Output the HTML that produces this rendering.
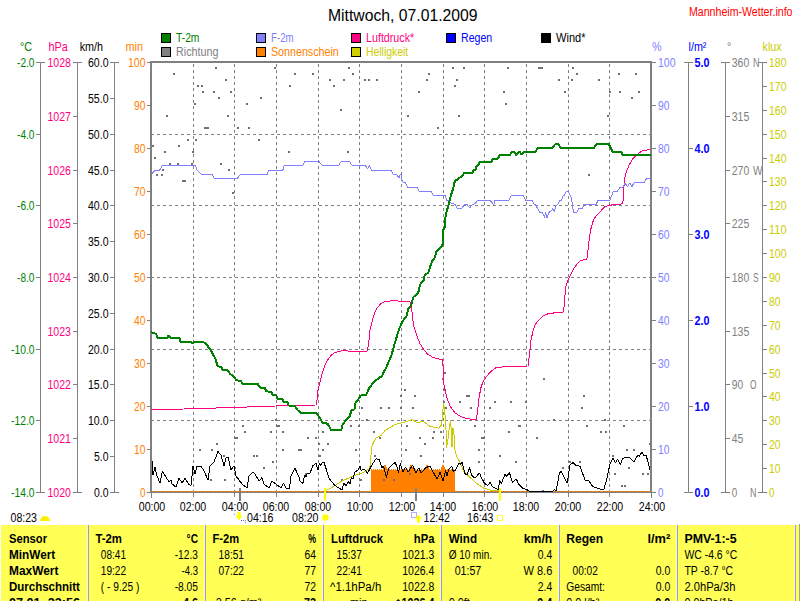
<!DOCTYPE html><html><head><meta charset="utf-8"><style>html,body{margin:0;padding:0;background:#fff;width:800px;height:601px;overflow:hidden}svg{display:block}text{font-family:"Liberation Sans",sans-serif}</style></head><body>
<svg width="800" height="601" viewBox="0 0 800 601">
<rect width="800" height="601" fill="#fff"/>
<text x="328" y="21" fill="#000" font-size="16" text-anchor="start" textLength="149.5" lengthAdjust="spacingAndGlyphs">Mittwoch, 07.01.2009</text>
<text x="689" y="16" fill="#FF0000" font-size="12" text-anchor="start" textLength="103.5" lengthAdjust="spacingAndGlyphs">Mannheim-Wetter.info</text>
<rect x="161.5" y="33.5" width="9" height="9" fill="#008000" stroke="#000" stroke-width="1"/>
<text x="176" y="42" fill="#008000" font-size="12" text-anchor="start" textLength="23.4" lengthAdjust="spacingAndGlyphs">T-2m</text>
<rect x="161.5" y="47.5" width="9" height="9" fill="#808080" stroke="#000" stroke-width="1"/>
<text x="176" y="56" fill="#808080" font-size="12" text-anchor="start" textLength="42.4" lengthAdjust="spacingAndGlyphs">Richtung</text>
<rect x="256.5" y="33.5" width="9" height="9" fill="#8080FF" stroke="#000" stroke-width="1"/>
<text x="271" y="42" fill="#8080FF" font-size="12" text-anchor="start" textLength="22.7" lengthAdjust="spacingAndGlyphs">F-2m</text>
<rect x="256.5" y="47.5" width="9" height="9" fill="#FF8000" stroke="#000" stroke-width="1"/>
<text x="271" y="56" fill="#FF8000" font-size="12" text-anchor="start" textLength="67.7" lengthAdjust="spacingAndGlyphs">Sonnenschein</text>
<rect x="351.5" y="33.5" width="9" height="9" fill="#FF0080" stroke="#000" stroke-width="1"/>
<text x="366" y="42" fill="#FF0080" font-size="12" text-anchor="start" textLength="48.2" lengthAdjust="spacingAndGlyphs">Luftdruck*</text>
<rect x="351.5" y="47.5" width="9" height="9" fill="#D0D000" stroke="#000" stroke-width="1"/>
<text x="366" y="56" fill="#CCCC00" font-size="12" text-anchor="start" textLength="42.2" lengthAdjust="spacingAndGlyphs">Helligkeit</text>
<rect x="446.5" y="33.5" width="9" height="9" fill="#0000FF" stroke="#000" stroke-width="1"/>
<text x="461" y="42" fill="#0000FF" font-size="12" text-anchor="start" textLength="31.25" lengthAdjust="spacingAndGlyphs">Regen</text>
<rect x="541.5" y="33.5" width="9" height="9" fill="#000000" stroke="#000" stroke-width="1"/>
<text x="556" y="42" fill="#000000" font-size="12" text-anchor="start" textLength="29.5" lengthAdjust="spacingAndGlyphs">Wind*</text>
<text x="20" y="51" fill="#008000" font-size="12" text-anchor="start" textLength="12.1" lengthAdjust="spacingAndGlyphs">°C</text>
<text x="48.5" y="51" fill="#FF0080" font-size="12" text-anchor="start" textLength="19.19" lengthAdjust="spacingAndGlyphs">hPa</text>
<text x="79.7" y="51" fill="#000" font-size="12" text-anchor="start" textLength="23.37" lengthAdjust="spacingAndGlyphs">km/h</text>
<text x="125.6" y="51" fill="#FF8000" font-size="12" text-anchor="start" textLength="17.38" lengthAdjust="spacingAndGlyphs">min</text>
<text x="652" y="51" fill="#8080FF" font-size="12" text-anchor="start" textLength="9.59" lengthAdjust="spacingAndGlyphs">%</text>
<text x="688.5" y="51" fill="#0000FF" font-size="12" text-anchor="start" textLength="17.96" lengthAdjust="spacingAndGlyphs">l/m²</text>
<text x="727" y="51" fill="#808080" font-size="12" text-anchor="start" textLength="4.32" lengthAdjust="spacingAndGlyphs">°</text>
<text x="762.5" y="51" fill="#CCCC00" font-size="12" text-anchor="start" textLength="19.17" lengthAdjust="spacingAndGlyphs">klux</text>
<rect x="40" y="62" width="1" height="431" fill="#808080"/>
<rect x="36" y="62" width="9" height="1" fill="#808080"/>
<text x="34.5" y="67" fill="#008000" font-size="12" text-anchor="end" textLength="17.5" lengthAdjust="spacingAndGlyphs">-2.0</text>
<rect x="36" y="134" width="5" height="1" fill="#808080"/>
<text x="34.5" y="139" fill="#008000" font-size="12" text-anchor="end" textLength="17.5" lengthAdjust="spacingAndGlyphs">-4.0</text>
<rect x="36" y="205" width="5" height="1" fill="#808080"/>
<text x="34.5" y="210" fill="#008000" font-size="12" text-anchor="end" textLength="17.5" lengthAdjust="spacingAndGlyphs">-6.0</text>
<rect x="36" y="277" width="5" height="1" fill="#808080"/>
<text x="34.5" y="282" fill="#008000" font-size="12" text-anchor="end" textLength="17.5" lengthAdjust="spacingAndGlyphs">-8.0</text>
<rect x="36" y="349" width="5" height="1" fill="#808080"/>
<text x="34.5" y="354" fill="#008000" font-size="12" text-anchor="end" textLength="23.5" lengthAdjust="spacingAndGlyphs">-10.0</text>
<rect x="36" y="420" width="5" height="1" fill="#808080"/>
<text x="34.5" y="425" fill="#008000" font-size="12" text-anchor="end" textLength="23.5" lengthAdjust="spacingAndGlyphs">-12.0</text>
<rect x="36" y="492" width="9" height="1" fill="#808080"/>
<text x="34.5" y="497" fill="#008000" font-size="12" text-anchor="end" textLength="23.5" lengthAdjust="spacingAndGlyphs">-14.0</text>
<rect x="77" y="62" width="1" height="431" fill="#808080"/>
<rect x="73" y="62" width="9" height="1" fill="#808080"/>
<text x="71" y="67" fill="#FF0080" font-size="12" text-anchor="end" textLength="23.5" lengthAdjust="spacingAndGlyphs">1028</text>
<rect x="73" y="116" width="5" height="1" fill="#808080"/>
<text x="71" y="121" fill="#FF0080" font-size="12" text-anchor="end" textLength="23.5" lengthAdjust="spacingAndGlyphs">1027</text>
<rect x="73" y="170" width="5" height="1" fill="#808080"/>
<text x="71" y="175" fill="#FF0080" font-size="12" text-anchor="end" textLength="23.5" lengthAdjust="spacingAndGlyphs">1026</text>
<rect x="73" y="223" width="5" height="1" fill="#808080"/>
<text x="71" y="228" fill="#FF0080" font-size="12" text-anchor="end" textLength="23.5" lengthAdjust="spacingAndGlyphs">1025</text>
<rect x="73" y="277" width="5" height="1" fill="#808080"/>
<text x="71" y="282" fill="#FF0080" font-size="12" text-anchor="end" textLength="23.5" lengthAdjust="spacingAndGlyphs">1024</text>
<rect x="73" y="331" width="5" height="1" fill="#808080"/>
<text x="71" y="336" fill="#FF0080" font-size="12" text-anchor="end" textLength="23.5" lengthAdjust="spacingAndGlyphs">1023</text>
<rect x="73" y="384" width="5" height="1" fill="#808080"/>
<text x="71" y="389" fill="#FF0080" font-size="12" text-anchor="end" textLength="23.5" lengthAdjust="spacingAndGlyphs">1022</text>
<rect x="73" y="438" width="5" height="1" fill="#808080"/>
<text x="71" y="443" fill="#FF0080" font-size="12" text-anchor="end" textLength="23.5" lengthAdjust="spacingAndGlyphs">1021</text>
<rect x="73" y="492" width="9" height="1" fill="#808080"/>
<text x="71" y="497" fill="#FF0080" font-size="12" text-anchor="end" textLength="23.5" lengthAdjust="spacingAndGlyphs">1020</text>
<rect x="114" y="62" width="1" height="431" fill="#808080"/>
<rect x="110" y="62" width="9" height="1" fill="#808080"/>
<text x="108.5" y="67" fill="#000" font-size="12" text-anchor="end" textLength="20.5" lengthAdjust="spacingAndGlyphs">60.0</text>
<rect x="110" y="98" width="5" height="1" fill="#808080"/>
<text x="108.5" y="103" fill="#000" font-size="12" text-anchor="end" textLength="20.5" lengthAdjust="spacingAndGlyphs">55.0</text>
<rect x="110" y="134" width="5" height="1" fill="#808080"/>
<text x="108.5" y="139" fill="#000" font-size="12" text-anchor="end" textLength="20.5" lengthAdjust="spacingAndGlyphs">50.0</text>
<rect x="110" y="170" width="5" height="1" fill="#808080"/>
<text x="108.5" y="175" fill="#000" font-size="12" text-anchor="end" textLength="20.5" lengthAdjust="spacingAndGlyphs">45.0</text>
<rect x="110" y="205" width="5" height="1" fill="#808080"/>
<text x="108.5" y="210" fill="#000" font-size="12" text-anchor="end" textLength="20.5" lengthAdjust="spacingAndGlyphs">40.0</text>
<rect x="110" y="241" width="5" height="1" fill="#808080"/>
<text x="108.5" y="246" fill="#000" font-size="12" text-anchor="end" textLength="20.5" lengthAdjust="spacingAndGlyphs">35.0</text>
<rect x="110" y="277" width="5" height="1" fill="#808080"/>
<text x="108.5" y="282" fill="#000" font-size="12" text-anchor="end" textLength="20.5" lengthAdjust="spacingAndGlyphs">30.0</text>
<rect x="110" y="313" width="5" height="1" fill="#808080"/>
<text x="108.5" y="318" fill="#000" font-size="12" text-anchor="end" textLength="20.5" lengthAdjust="spacingAndGlyphs">25.0</text>
<rect x="110" y="349" width="5" height="1" fill="#808080"/>
<text x="108.5" y="354" fill="#000" font-size="12" text-anchor="end" textLength="20.5" lengthAdjust="spacingAndGlyphs">20.0</text>
<rect x="110" y="384" width="5" height="1" fill="#808080"/>
<text x="108.5" y="389" fill="#000" font-size="12" text-anchor="end" textLength="20.5" lengthAdjust="spacingAndGlyphs">15.0</text>
<rect x="110" y="420" width="5" height="1" fill="#808080"/>
<text x="108.5" y="425" fill="#000" font-size="12" text-anchor="end" textLength="20.5" lengthAdjust="spacingAndGlyphs">10.0</text>
<rect x="110" y="456" width="5" height="1" fill="#808080"/>
<text x="108.5" y="461" fill="#000" font-size="12" text-anchor="end" textLength="14.5" lengthAdjust="spacingAndGlyphs">5.0</text>
<rect x="110" y="492" width="9" height="1" fill="#808080"/>
<text x="108.5" y="497" fill="#000" font-size="12" text-anchor="end" textLength="14.5" lengthAdjust="spacingAndGlyphs">0.0</text>
<rect x="147" y="62" width="4" height="1" fill="#808080"/>
<text x="145.5" y="67" fill="#FF8000" font-size="12" text-anchor="end" textLength="17.5" lengthAdjust="spacingAndGlyphs">100</text>
<rect x="147" y="105" width="4" height="1" fill="#808080"/>
<text x="145.5" y="110" fill="#FF8000" font-size="12" text-anchor="end" textLength="11.5" lengthAdjust="spacingAndGlyphs">90</text>
<rect x="147" y="148" width="4" height="1" fill="#808080"/>
<text x="145.5" y="153" fill="#FF8000" font-size="12" text-anchor="end" textLength="11.5" lengthAdjust="spacingAndGlyphs">80</text>
<rect x="147" y="191" width="4" height="1" fill="#808080"/>
<text x="145.5" y="196" fill="#FF8000" font-size="12" text-anchor="end" textLength="11.5" lengthAdjust="spacingAndGlyphs">70</text>
<rect x="147" y="234" width="4" height="1" fill="#808080"/>
<text x="145.5" y="239" fill="#FF8000" font-size="12" text-anchor="end" textLength="11.5" lengthAdjust="spacingAndGlyphs">60</text>
<rect x="147" y="277" width="4" height="1" fill="#808080"/>
<text x="145.5" y="282" fill="#FF8000" font-size="12" text-anchor="end" textLength="11.5" lengthAdjust="spacingAndGlyphs">50</text>
<rect x="147" y="320" width="4" height="1" fill="#808080"/>
<text x="145.5" y="325" fill="#FF8000" font-size="12" text-anchor="end" textLength="11.5" lengthAdjust="spacingAndGlyphs">40</text>
<rect x="147" y="363" width="4" height="1" fill="#808080"/>
<text x="145.5" y="368" fill="#FF8000" font-size="12" text-anchor="end" textLength="11.5" lengthAdjust="spacingAndGlyphs">30</text>
<rect x="147" y="406" width="4" height="1" fill="#808080"/>
<text x="145.5" y="411" fill="#FF8000" font-size="12" text-anchor="end" textLength="11.5" lengthAdjust="spacingAndGlyphs">20</text>
<rect x="147" y="449" width="4" height="1" fill="#808080"/>
<text x="145.5" y="454" fill="#FF8000" font-size="12" text-anchor="end" textLength="11.5" lengthAdjust="spacingAndGlyphs">10</text>
<rect x="147" y="492" width="4" height="1" fill="#808080"/>
<text x="145.5" y="497" fill="#FF8000" font-size="12" text-anchor="end" textLength="5.5" lengthAdjust="spacingAndGlyphs">0</text>
<rect x="651" y="62" width="5" height="1" fill="#808080"/>
<text x="658" y="67" fill="#8080FF" font-size="12" text-anchor="start" textLength="17.5" lengthAdjust="spacingAndGlyphs">100</text>
<rect x="651" y="105" width="5" height="1" fill="#808080"/>
<text x="658" y="110" fill="#8080FF" font-size="12" text-anchor="start" textLength="11.5" lengthAdjust="spacingAndGlyphs">90</text>
<rect x="651" y="148" width="5" height="1" fill="#808080"/>
<text x="658" y="153" fill="#8080FF" font-size="12" text-anchor="start" textLength="11.5" lengthAdjust="spacingAndGlyphs">80</text>
<rect x="651" y="191" width="5" height="1" fill="#808080"/>
<text x="658" y="196" fill="#8080FF" font-size="12" text-anchor="start" textLength="11.5" lengthAdjust="spacingAndGlyphs">70</text>
<rect x="651" y="234" width="5" height="1" fill="#808080"/>
<text x="658" y="239" fill="#8080FF" font-size="12" text-anchor="start" textLength="11.5" lengthAdjust="spacingAndGlyphs">60</text>
<rect x="651" y="277" width="5" height="1" fill="#808080"/>
<text x="658" y="282" fill="#8080FF" font-size="12" text-anchor="start" textLength="11.5" lengthAdjust="spacingAndGlyphs">50</text>
<rect x="651" y="320" width="5" height="1" fill="#808080"/>
<text x="658" y="325" fill="#8080FF" font-size="12" text-anchor="start" textLength="11.5" lengthAdjust="spacingAndGlyphs">40</text>
<rect x="651" y="363" width="5" height="1" fill="#808080"/>
<text x="658" y="368" fill="#8080FF" font-size="12" text-anchor="start" textLength="11.5" lengthAdjust="spacingAndGlyphs">30</text>
<rect x="651" y="406" width="5" height="1" fill="#808080"/>
<text x="658" y="411" fill="#8080FF" font-size="12" text-anchor="start" textLength="11.5" lengthAdjust="spacingAndGlyphs">20</text>
<rect x="651" y="449" width="5" height="1" fill="#808080"/>
<text x="658" y="454" fill="#8080FF" font-size="12" text-anchor="start" textLength="11.5" lengthAdjust="spacingAndGlyphs">10</text>
<rect x="651" y="492" width="5" height="1" fill="#808080"/>
<text x="658" y="497" fill="#8080FF" font-size="12" text-anchor="start" textLength="5.5" lengthAdjust="spacingAndGlyphs">0</text>
<rect x="688" y="62" width="1" height="431" fill="#808080"/>
<rect x="684" y="62" width="9" height="1" fill="#808080"/>
<text x="694.5" y="67" fill="#0000FF" font-size="12" text-anchor="start" font-weight="bold" textLength="14.99" lengthAdjust="spacingAndGlyphs">5.0</text>
<rect x="688" y="148" width="5" height="1" fill="#808080"/>
<text x="694.5" y="153" fill="#0000FF" font-size="12" text-anchor="start" font-weight="bold" textLength="14.99" lengthAdjust="spacingAndGlyphs">4.0</text>
<rect x="688" y="234" width="5" height="1" fill="#808080"/>
<text x="694.5" y="239" fill="#0000FF" font-size="12" text-anchor="start" font-weight="bold" textLength="14.99" lengthAdjust="spacingAndGlyphs">3.0</text>
<rect x="688" y="320" width="5" height="1" fill="#808080"/>
<text x="694.5" y="325" fill="#0000FF" font-size="12" text-anchor="start" font-weight="bold" textLength="14.99" lengthAdjust="spacingAndGlyphs">2.0</text>
<rect x="688" y="406" width="5" height="1" fill="#808080"/>
<text x="694.5" y="411" fill="#0000FF" font-size="12" text-anchor="start" font-weight="bold" textLength="14.99" lengthAdjust="spacingAndGlyphs">1.0</text>
<rect x="684" y="492" width="9" height="1" fill="#808080"/>
<text x="694.5" y="497" fill="#0000FF" font-size="12" text-anchor="start" font-weight="bold" textLength="14.99" lengthAdjust="spacingAndGlyphs">0.0</text>
<rect x="725" y="62" width="1" height="431" fill="#808080"/>
<rect x="721" y="62" width="9" height="1" fill="#808080"/>
<text x="731.75" y="67" fill="#808080" font-size="12" text-anchor="start" textLength="17.5" lengthAdjust="spacingAndGlyphs">360</text>
<rect x="725" y="116" width="5" height="1" fill="#808080"/>
<text x="731.75" y="121" fill="#808080" font-size="12" text-anchor="start" textLength="17.5" lengthAdjust="spacingAndGlyphs">315</text>
<rect x="725" y="170" width="5" height="1" fill="#808080"/>
<text x="731.75" y="175" fill="#808080" font-size="12" text-anchor="start" textLength="17.5" lengthAdjust="spacingAndGlyphs">270</text>
<rect x="725" y="223" width="5" height="1" fill="#808080"/>
<text x="731.75" y="228" fill="#808080" font-size="12" text-anchor="start" textLength="17.5" lengthAdjust="spacingAndGlyphs">225</text>
<rect x="725" y="277" width="5" height="1" fill="#808080"/>
<text x="731.75" y="282" fill="#808080" font-size="12" text-anchor="start" textLength="17.5" lengthAdjust="spacingAndGlyphs">180</text>
<rect x="725" y="331" width="5" height="1" fill="#808080"/>
<text x="731.75" y="336" fill="#808080" font-size="12" text-anchor="start" textLength="17.5" lengthAdjust="spacingAndGlyphs">135</text>
<rect x="725" y="384" width="5" height="1" fill="#808080"/>
<text x="731.75" y="389" fill="#808080" font-size="12" text-anchor="start" textLength="11.5" lengthAdjust="spacingAndGlyphs">90</text>
<rect x="725" y="438" width="5" height="1" fill="#808080"/>
<text x="731.75" y="443" fill="#808080" font-size="12" text-anchor="start" textLength="11.5" lengthAdjust="spacingAndGlyphs">45</text>
<rect x="721" y="492" width="9" height="1" fill="#808080"/>
<text x="731.75" y="497" fill="#808080" font-size="12" text-anchor="start" textLength="5.5" lengthAdjust="spacingAndGlyphs">0</text>
<text x="753" y="67" fill="#808080" font-size="12" text-anchor="start" textLength="6.5" lengthAdjust="spacingAndGlyphs">N</text>
<text x="753" y="175" fill="#808080" font-size="12" text-anchor="start" textLength="9.5" lengthAdjust="spacingAndGlyphs">W</text>
<text x="753" y="282" fill="#808080" font-size="12" text-anchor="start" textLength="5.5" lengthAdjust="spacingAndGlyphs">S</text>
<text x="750" y="389" fill="#808080" font-size="12" text-anchor="start" textLength="6.5" lengthAdjust="spacingAndGlyphs">O</text>
<text x="750" y="497" fill="#808080" font-size="12" text-anchor="start" textLength="6.5" lengthAdjust="spacingAndGlyphs">N</text>
<rect x="762" y="62" width="1" height="431" fill="#808080"/>
<rect x="758" y="62" width="9" height="1" fill="#808080"/>
<text x="769" y="67" fill="#CCCC00" font-size="12" text-anchor="start" textLength="17.5" lengthAdjust="spacingAndGlyphs">180</text>
<rect x="762" y="86" width="5" height="1" fill="#808080"/>
<text x="769" y="91" fill="#CCCC00" font-size="12" text-anchor="start" textLength="17.5" lengthAdjust="spacingAndGlyphs">170</text>
<rect x="762" y="110" width="5" height="1" fill="#808080"/>
<text x="769" y="115" fill="#CCCC00" font-size="12" text-anchor="start" textLength="17.5" lengthAdjust="spacingAndGlyphs">160</text>
<rect x="762" y="134" width="5" height="1" fill="#808080"/>
<text x="769" y="139" fill="#CCCC00" font-size="12" text-anchor="start" textLength="17.5" lengthAdjust="spacingAndGlyphs">150</text>
<rect x="762" y="158" width="5" height="1" fill="#808080"/>
<text x="769" y="163" fill="#CCCC00" font-size="12" text-anchor="start" textLength="17.5" lengthAdjust="spacingAndGlyphs">140</text>
<rect x="762" y="181" width="5" height="1" fill="#808080"/>
<text x="769" y="186" fill="#CCCC00" font-size="12" text-anchor="start" textLength="17.5" lengthAdjust="spacingAndGlyphs">130</text>
<rect x="762" y="205" width="5" height="1" fill="#808080"/>
<text x="769" y="210" fill="#CCCC00" font-size="12" text-anchor="start" textLength="17.5" lengthAdjust="spacingAndGlyphs">120</text>
<rect x="762" y="229" width="5" height="1" fill="#808080"/>
<text x="769" y="234" fill="#CCCC00" font-size="12" text-anchor="start" textLength="17.5" lengthAdjust="spacingAndGlyphs">110</text>
<rect x="762" y="253" width="5" height="1" fill="#808080"/>
<text x="769" y="258" fill="#CCCC00" font-size="12" text-anchor="start" textLength="17.5" lengthAdjust="spacingAndGlyphs">100</text>
<rect x="762" y="277" width="5" height="1" fill="#808080"/>
<text x="769" y="282" fill="#CCCC00" font-size="12" text-anchor="start" textLength="11.5" lengthAdjust="spacingAndGlyphs">90</text>
<rect x="762" y="301" width="5" height="1" fill="#808080"/>
<text x="769" y="306" fill="#CCCC00" font-size="12" text-anchor="start" textLength="11.5" lengthAdjust="spacingAndGlyphs">80</text>
<rect x="762" y="325" width="5" height="1" fill="#808080"/>
<text x="769" y="330" fill="#CCCC00" font-size="12" text-anchor="start" textLength="11.5" lengthAdjust="spacingAndGlyphs">70</text>
<rect x="762" y="349" width="5" height="1" fill="#808080"/>
<text x="769" y="354" fill="#CCCC00" font-size="12" text-anchor="start" textLength="11.5" lengthAdjust="spacingAndGlyphs">60</text>
<rect x="762" y="373" width="5" height="1" fill="#808080"/>
<text x="769" y="378" fill="#CCCC00" font-size="12" text-anchor="start" textLength="11.5" lengthAdjust="spacingAndGlyphs">50</text>
<rect x="762" y="396" width="5" height="1" fill="#808080"/>
<text x="769" y="401" fill="#CCCC00" font-size="12" text-anchor="start" textLength="11.5" lengthAdjust="spacingAndGlyphs">40</text>
<rect x="762" y="420" width="5" height="1" fill="#808080"/>
<text x="769" y="425" fill="#CCCC00" font-size="12" text-anchor="start" textLength="11.5" lengthAdjust="spacingAndGlyphs">30</text>
<rect x="762" y="444" width="5" height="1" fill="#808080"/>
<text x="769" y="449" fill="#CCCC00" font-size="12" text-anchor="start" textLength="11.5" lengthAdjust="spacingAndGlyphs">20</text>
<rect x="762" y="468" width="5" height="1" fill="#808080"/>
<text x="769" y="473" fill="#CCCC00" font-size="12" text-anchor="start" textLength="11.5" lengthAdjust="spacingAndGlyphs">10</text>
<rect x="758" y="492" width="9" height="1" fill="#808080"/>
<text x="769" y="497" fill="#CCCC00" font-size="12" text-anchor="start" textLength="5.5" lengthAdjust="spacingAndGlyphs">0</text>
<rect x="150" y="61" width="502" height="2" fill="#808080"/>
<rect x="150" y="61" width="2" height="431" fill="#808080"/>
<rect x="151" y="492" width="1" height="6" fill="#808080"/>
<rect x="650" y="61" width="2" height="432" fill="#808080"/>
<rect x="651" y="492" width="1" height="6" fill="#808080"/>
<rect x="651" y="492" width="5" height="1" fill="#808080"/>
<rect x="150" y="491" width="502" height="2" fill="#808080"/>
<line x1="193.5" y1="64" x2="193.5" y2="491" stroke="#808080" stroke-width="1" stroke-dasharray="3 3"/>
<rect x="193" y="492" width="1" height="5" fill="#808080"/>
<line x1="234.5" y1="64" x2="234.5" y2="491" stroke="#808080" stroke-width="1" stroke-dasharray="3 3"/>
<rect x="234" y="492" width="1" height="5" fill="#808080"/>
<line x1="276.5" y1="64" x2="276.5" y2="491" stroke="#808080" stroke-width="1" stroke-dasharray="3 3"/>
<rect x="276" y="492" width="1" height="5" fill="#808080"/>
<line x1="318.5" y1="64" x2="318.5" y2="491" stroke="#808080" stroke-width="1" stroke-dasharray="3 3"/>
<rect x="318" y="492" width="1" height="5" fill="#808080"/>
<line x1="359.5" y1="64" x2="359.5" y2="491" stroke="#808080" stroke-width="1" stroke-dasharray="3 3"/>
<rect x="359" y="492" width="1" height="5" fill="#808080"/>
<line x1="401.5" y1="64" x2="401.5" y2="491" stroke="#808080" stroke-width="1" stroke-dasharray="3 3"/>
<rect x="401" y="492" width="1" height="5" fill="#808080"/>
<line x1="443.5" y1="64" x2="443.5" y2="491" stroke="#808080" stroke-width="1" stroke-dasharray="3 3"/>
<rect x="443" y="492" width="1" height="5" fill="#808080"/>
<line x1="484.5" y1="64" x2="484.5" y2="491" stroke="#808080" stroke-width="1" stroke-dasharray="3 3"/>
<rect x="484" y="492" width="1" height="5" fill="#808080"/>
<line x1="526.5" y1="64" x2="526.5" y2="491" stroke="#808080" stroke-width="1" stroke-dasharray="3 3"/>
<rect x="526" y="492" width="1" height="5" fill="#808080"/>
<line x1="568.5" y1="64" x2="568.5" y2="491" stroke="#808080" stroke-width="1" stroke-dasharray="3 3"/>
<rect x="568" y="492" width="1" height="5" fill="#808080"/>
<line x1="609.5" y1="64" x2="609.5" y2="491" stroke="#808080" stroke-width="1" stroke-dasharray="3 3"/>
<rect x="609" y="492" width="1" height="5" fill="#808080"/>
<line x1="151" y1="134.5" x2="650" y2="134.5" stroke="#808080" stroke-width="1" stroke-dasharray="3 3"/>
<line x1="151" y1="205.5" x2="650" y2="205.5" stroke="#808080" stroke-width="1" stroke-dasharray="3 3"/>
<line x1="151" y1="277.5" x2="650" y2="277.5" stroke="#808080" stroke-width="1" stroke-dasharray="3 3"/>
<line x1="151" y1="349.5" x2="650" y2="349.5" stroke="#808080" stroke-width="1" stroke-dasharray="3 3"/>
<line x1="151" y1="420.5" x2="650" y2="420.5" stroke="#808080" stroke-width="1" stroke-dasharray="3 3"/>
<text x="152" y="511" fill="#000" font-size="12" text-anchor="middle" textLength="26.5" lengthAdjust="spacingAndGlyphs">00:00</text>
<text x="193" y="511" fill="#000" font-size="12" text-anchor="middle" textLength="26.5" lengthAdjust="spacingAndGlyphs">02:00</text>
<text x="235" y="511" fill="#000" font-size="12" text-anchor="middle" textLength="26.5" lengthAdjust="spacingAndGlyphs">04:00</text>
<text x="276" y="511" fill="#000" font-size="12" text-anchor="middle" textLength="26.5" lengthAdjust="spacingAndGlyphs">06:00</text>
<text x="318" y="511" fill="#000" font-size="12" text-anchor="middle" textLength="26.5" lengthAdjust="spacingAndGlyphs">08:00</text>
<text x="360" y="511" fill="#000" font-size="12" text-anchor="middle" textLength="26.5" lengthAdjust="spacingAndGlyphs">10:00</text>
<text x="402" y="511" fill="#000" font-size="12" text-anchor="middle" textLength="26.5" lengthAdjust="spacingAndGlyphs">12:00</text>
<text x="443" y="511" fill="#000" font-size="12" text-anchor="middle" textLength="26.5" lengthAdjust="spacingAndGlyphs">14:00</text>
<text x="485" y="511" fill="#000" font-size="12" text-anchor="middle" textLength="26.5" lengthAdjust="spacingAndGlyphs">16:00</text>
<text x="526" y="511" fill="#000" font-size="12" text-anchor="middle" textLength="26.5" lengthAdjust="spacingAndGlyphs">18:00</text>
<text x="568" y="511" fill="#000" font-size="12" text-anchor="middle" textLength="26.5" lengthAdjust="spacingAndGlyphs">20:00</text>
<text x="610" y="511" fill="#000" font-size="12" text-anchor="middle" textLength="26.5" lengthAdjust="spacingAndGlyphs">22:00</text>
<text x="652" y="511" fill="#000" font-size="12" text-anchor="middle" textLength="26.5" lengthAdjust="spacingAndGlyphs">24:00</text>
<rect x="371" y="470" width="84" height="22" fill="#FF8000"/>
<rect x="371" y="469" width="1" height="1" fill="#FF8000"/>
<rect x="373" y="469" width="1" height="1" fill="#FF8000"/>
<rect x="375" y="469" width="1" height="1" fill="#FF8000"/>
<rect x="377" y="469" width="1" height="1" fill="#FF8000"/>
<rect x="379" y="469" width="1" height="1" fill="#FF8000"/>
<rect x="381" y="469" width="1" height="1" fill="#FF8000"/>
<rect x="383" y="469" width="1" height="1" fill="#FF8000"/>
<rect x="385" y="469" width="1" height="1" fill="#FF8000"/>
<rect x="387" y="469" width="1" height="1" fill="#FF8000"/>
<rect x="389" y="469" width="1" height="1" fill="#FF8000"/>
<rect x="391" y="469" width="1" height="1" fill="#FF8000"/>
<rect x="393" y="469" width="1" height="1" fill="#FF8000"/>
<rect x="395" y="469" width="1" height="1" fill="#FF8000"/>
<rect x="397" y="469" width="1" height="1" fill="#FF8000"/>
<rect x="399" y="469" width="1" height="1" fill="#FF8000"/>
<rect x="401" y="469" width="1" height="1" fill="#FF8000"/>
<rect x="403" y="469" width="1" height="1" fill="#FF8000"/>
<rect x="405" y="469" width="1" height="1" fill="#FF8000"/>
<rect x="407" y="469" width="1" height="1" fill="#FF8000"/>
<rect x="409" y="469" width="1" height="1" fill="#FF8000"/>
<rect x="411" y="469" width="1" height="1" fill="#FF8000"/>
<rect x="413" y="469" width="1" height="1" fill="#FF8000"/>
<rect x="415" y="469" width="1" height="1" fill="#FF8000"/>
<rect x="417" y="469" width="1" height="1" fill="#FF8000"/>
<rect x="419" y="469" width="1" height="1" fill="#FF8000"/>
<rect x="421" y="469" width="1" height="1" fill="#FF8000"/>
<rect x="423" y="469" width="1" height="1" fill="#FF8000"/>
<rect x="425" y="469" width="1" height="1" fill="#FF8000"/>
<rect x="427" y="469" width="1" height="1" fill="#FF8000"/>
<rect x="429" y="469" width="1" height="1" fill="#FF8000"/>
<rect x="431" y="469" width="1" height="1" fill="#FF8000"/>
<rect x="433" y="469" width="1" height="1" fill="#FF8000"/>
<rect x="435" y="469" width="1" height="1" fill="#FF8000"/>
<rect x="437" y="469" width="1" height="1" fill="#FF8000"/>
<rect x="439" y="469" width="1" height="1" fill="#FF8000"/>
<rect x="441" y="469" width="1" height="1" fill="#FF8000"/>
<rect x="443" y="469" width="1" height="1" fill="#FF8000"/>
<rect x="445" y="469" width="1" height="1" fill="#FF8000"/>
<rect x="447" y="469" width="1" height="1" fill="#FF8000"/>
<rect x="449" y="469" width="1" height="1" fill="#FF8000"/>
<rect x="451" y="469" width="1" height="1" fill="#FF8000"/>
<rect x="453" y="469" width="1" height="1" fill="#FF8000"/>
<rect x="383" y="467" width="4" height="3" fill="#FF8000"/><rect x="384" y="465" width="2" height="2" fill="#FF8000"/>
<rect x="409" y="467" width="4" height="3" fill="#FF8000"/><rect x="410" y="465" width="2" height="2" fill="#FF8000"/>
<rect x="425" y="467" width="4" height="3" fill="#FF8000"/><rect x="426" y="465" width="2" height="2" fill="#FF8000"/>
<rect x="441" y="467" width="4" height="3" fill="#FF8000"/><rect x="442" y="465" width="2" height="2" fill="#FF8000"/>
<rect x="173" y="73" width="2" height="2" fill="#707070"/>
<rect x="215" y="67" width="2" height="2" fill="#707070"/>
<rect x="274" y="67" width="2" height="2" fill="#707070"/>
<rect x="294" y="73" width="2" height="2" fill="#707070"/>
<rect x="312" y="73" width="2" height="2" fill="#707070"/>
<rect x="348" y="67" width="2" height="2" fill="#707070"/>
<rect x="225" y="79" width="2" height="2" fill="#707070"/>
<rect x="329" y="79" width="2" height="2" fill="#707070"/>
<rect x="343" y="79" width="2" height="2" fill="#707070"/>
<rect x="197" y="85" width="2" height="2" fill="#707070"/>
<rect x="201" y="85" width="2" height="2" fill="#707070"/>
<rect x="289" y="85" width="2" height="2" fill="#707070"/>
<rect x="333" y="85" width="2" height="2" fill="#707070"/>
<rect x="202" y="91" width="2" height="2" fill="#707070"/>
<rect x="213" y="91" width="2" height="2" fill="#707070"/>
<rect x="230" y="91" width="2" height="2" fill="#707070"/>
<rect x="218" y="97" width="2" height="2" fill="#707070"/>
<rect x="260" y="97" width="2" height="2" fill="#707070"/>
<rect x="194" y="103" width="2" height="2" fill="#707070"/>
<rect x="246" y="103" width="2" height="2" fill="#707070"/>
<rect x="340" y="109" width="2" height="2" fill="#707070"/>
<rect x="166" y="115" width="2" height="2" fill="#707070"/>
<rect x="227" y="115" width="2" height="2" fill="#707070"/>
<rect x="204" y="127" width="2" height="2" fill="#707070"/>
<rect x="206" y="127" width="2" height="2" fill="#707070"/>
<rect x="207" y="127" width="2" height="2" fill="#707070"/>
<rect x="237" y="127" width="2" height="2" fill="#707070"/>
<rect x="248" y="127" width="2" height="2" fill="#707070"/>
<rect x="187" y="139" width="2" height="2" fill="#707070"/>
<rect x="195" y="139" width="2" height="2" fill="#707070"/>
<rect x="258" y="139" width="2" height="2" fill="#707070"/>
<rect x="152" y="145" width="2" height="2" fill="#707070"/>
<rect x="178" y="145" width="2" height="2" fill="#707070"/>
<rect x="164" y="151" width="2" height="2" fill="#707070"/>
<rect x="192" y="151" width="2" height="2" fill="#707070"/>
<rect x="288" y="151" width="2" height="2" fill="#707070"/>
<rect x="347" y="151" width="2" height="2" fill="#707070"/>
<rect x="154" y="157" width="2" height="2" fill="#707070"/>
<rect x="169" y="163" width="2" height="2" fill="#707070"/>
<rect x="177" y="163" width="2" height="2" fill="#707070"/>
<rect x="191" y="163" width="2" height="2" fill="#707070"/>
<rect x="220" y="163" width="2" height="2" fill="#707070"/>
<rect x="162" y="169" width="2" height="2" fill="#707070"/>
<rect x="228" y="169" width="2" height="2" fill="#707070"/>
<rect x="156" y="174" width="2" height="2" fill="#707070"/>
<rect x="161" y="174" width="2" height="2" fill="#707070"/>
<rect x="182" y="180" width="2" height="2" fill="#707070"/>
<rect x="183" y="180" width="2" height="2" fill="#707070"/>
<rect x="184" y="180" width="2" height="2" fill="#707070"/>
<rect x="232" y="192" width="2" height="2" fill="#707070"/>
<rect x="352" y="73" width="2" height="2" fill="#707070"/>
<rect x="364" y="79" width="2" height="2" fill="#707070"/>
<rect x="368" y="79" width="2" height="2" fill="#707070"/>
<rect x="376" y="79" width="2" height="2" fill="#707070"/>
<rect x="428" y="73" width="2" height="2" fill="#707070"/>
<rect x="426" y="79" width="2" height="2" fill="#707070"/>
<rect x="452" y="67" width="2" height="2" fill="#707070"/>
<rect x="463" y="67" width="2" height="2" fill="#707070"/>
<rect x="507" y="67" width="2" height="2" fill="#707070"/>
<rect x="538" y="67" width="2" height="2" fill="#707070"/>
<rect x="540" y="67" width="2" height="2" fill="#707070"/>
<rect x="541" y="67" width="2" height="2" fill="#707070"/>
<rect x="456" y="79" width="2" height="2" fill="#707070"/>
<rect x="454" y="85" width="2" height="2" fill="#707070"/>
<rect x="418" y="91" width="2" height="2" fill="#707070"/>
<rect x="503" y="91" width="2" height="2" fill="#707070"/>
<rect x="505" y="103" width="2" height="2" fill="#707070"/>
<rect x="407" y="115" width="2" height="2" fill="#707070"/>
<rect x="458" y="115" width="2" height="2" fill="#707070"/>
<rect x="437" y="127" width="2" height="2" fill="#707070"/>
<rect x="572" y="67" width="2" height="2" fill="#707070"/>
<rect x="576" y="73" width="2" height="2" fill="#707070"/>
<rect x="618" y="73" width="2" height="2" fill="#707070"/>
<rect x="635" y="73" width="2" height="2" fill="#707070"/>
<rect x="558" y="79" width="2" height="2" fill="#707070"/>
<rect x="571" y="79" width="2" height="2" fill="#707070"/>
<rect x="598" y="79" width="2" height="2" fill="#707070"/>
<rect x="564" y="91" width="2" height="2" fill="#707070"/>
<rect x="609" y="91" width="2" height="2" fill="#707070"/>
<rect x="619" y="91" width="2" height="2" fill="#707070"/>
<rect x="638" y="91" width="2" height="2" fill="#707070"/>
<rect x="631" y="97" width="2" height="2" fill="#707070"/>
<rect x="607" y="115" width="2" height="2" fill="#707070"/>
<rect x="588" y="174" width="2" height="2" fill="#707070"/>
<rect x="242" y="425" width="2" height="2" fill="#707070"/>
<rect x="276" y="425" width="2" height="2" fill="#707070"/>
<rect x="278" y="425" width="2" height="2" fill="#707070"/>
<rect x="244" y="431" width="2" height="2" fill="#707070"/>
<rect x="270" y="431" width="2" height="2" fill="#707070"/>
<rect x="282" y="431" width="2" height="2" fill="#707070"/>
<rect x="322" y="431" width="2" height="2" fill="#707070"/>
<rect x="234" y="437" width="2" height="2" fill="#707070"/>
<rect x="307" y="437" width="2" height="2" fill="#707070"/>
<rect x="315" y="437" width="2" height="2" fill="#707070"/>
<rect x="216" y="443" width="2" height="2" fill="#707070"/>
<rect x="318" y="443" width="2" height="2" fill="#707070"/>
<rect x="327" y="443" width="2" height="2" fill="#707070"/>
<rect x="199" y="449" width="2" height="2" fill="#707070"/>
<rect x="211" y="449" width="2" height="2" fill="#707070"/>
<rect x="253" y="455" width="2" height="2" fill="#707070"/>
<rect x="256" y="455" width="2" height="2" fill="#707070"/>
<rect x="282" y="449" width="2" height="2" fill="#707070"/>
<rect x="298" y="449" width="2" height="2" fill="#707070"/>
<rect x="300" y="449" width="2" height="2" fill="#707070"/>
<rect x="322" y="449" width="2" height="2" fill="#707070"/>
<rect x="319" y="455" width="2" height="2" fill="#707070"/>
<rect x="263" y="467" width="2" height="2" fill="#707070"/>
<rect x="272" y="461" width="2" height="2" fill="#707070"/>
<rect x="234" y="467" width="2" height="2" fill="#707070"/>
<rect x="224" y="479" width="2" height="2" fill="#707070"/>
<rect x="341" y="479" width="2" height="2" fill="#707070"/>
<rect x="305" y="473" width="2" height="2" fill="#707070"/>
<rect x="239" y="489" width="2" height="2" fill="#707070"/>
<rect x="444" y="372" width="2" height="2" fill="#707070"/>
<rect x="442" y="378" width="2" height="2" fill="#707070"/>
<rect x="543" y="378" width="2" height="2" fill="#707070"/>
<rect x="404" y="389" width="2" height="2" fill="#707070"/>
<rect x="443" y="389" width="2" height="2" fill="#707070"/>
<rect x="414" y="395" width="2" height="2" fill="#707070"/>
<rect x="466" y="395" width="2" height="2" fill="#707070"/>
<rect x="468" y="395" width="2" height="2" fill="#707070"/>
<rect x="459" y="401" width="2" height="2" fill="#707070"/>
<rect x="494" y="401" width="2" height="2" fill="#707070"/>
<rect x="510" y="401" width="2" height="2" fill="#707070"/>
<rect x="525" y="401" width="2" height="2" fill="#707070"/>
<rect x="361" y="407" width="2" height="2" fill="#707070"/>
<rect x="380" y="407" width="2" height="2" fill="#707070"/>
<rect x="388" y="407" width="2" height="2" fill="#707070"/>
<rect x="400" y="407" width="2" height="2" fill="#707070"/>
<rect x="412" y="407" width="2" height="2" fill="#707070"/>
<rect x="470" y="407" width="2" height="2" fill="#707070"/>
<rect x="489" y="407" width="2" height="2" fill="#707070"/>
<rect x="350" y="425" width="2" height="2" fill="#707070"/>
<rect x="474" y="425" width="2" height="2" fill="#707070"/>
<rect x="519" y="425" width="2" height="2" fill="#707070"/>
<rect x="373" y="431" width="2" height="2" fill="#707070"/>
<rect x="508" y="431" width="2" height="2" fill="#707070"/>
<rect x="379" y="437" width="2" height="2" fill="#707070"/>
<rect x="419" y="437" width="2" height="2" fill="#707070"/>
<rect x="432" y="437" width="2" height="2" fill="#707070"/>
<rect x="481" y="437" width="2" height="2" fill="#707070"/>
<rect x="483" y="437" width="2" height="2" fill="#707070"/>
<rect x="536" y="437" width="2" height="2" fill="#707070"/>
<rect x="424" y="443" width="2" height="2" fill="#707070"/>
<rect x="355" y="449" width="2" height="2" fill="#707070"/>
<rect x="405" y="449" width="2" height="2" fill="#707070"/>
<rect x="478" y="449" width="2" height="2" fill="#707070"/>
<rect x="374" y="455" width="2" height="2" fill="#707070"/>
<rect x="499" y="455" width="2" height="2" fill="#707070"/>
<rect x="420" y="455" width="2" height="2" fill="#707070"/>
<rect x="478" y="461" width="2" height="2" fill="#707070"/>
<rect x="515" y="461" width="2" height="2" fill="#707070"/>
<rect x="360" y="479" width="2" height="2" fill="#707070"/>
<rect x="383" y="479" width="2" height="2" fill="#707070"/>
<rect x="393" y="479" width="2" height="2" fill="#707070"/>
<rect x="409" y="473" width="2" height="2" fill="#707070"/>
<rect x="583" y="395" width="2" height="2" fill="#707070"/>
<rect x="581" y="407" width="2" height="2" fill="#707070"/>
<rect x="553" y="419" width="2" height="2" fill="#707070"/>
<rect x="604" y="419" width="2" height="2" fill="#707070"/>
<rect x="586" y="425" width="2" height="2" fill="#707070"/>
<rect x="623" y="425" width="2" height="2" fill="#707070"/>
<rect x="600" y="431" width="2" height="2" fill="#707070"/>
<rect x="605" y="431" width="2" height="2" fill="#707070"/>
<rect x="536" y="437" width="2" height="2" fill="#707070"/>
<rect x="649" y="443" width="2" height="2" fill="#707070"/>
<rect x="626" y="449" width="2" height="2" fill="#707070"/>
<rect x="633" y="449" width="2" height="2" fill="#707070"/>
<rect x="612" y="455" width="2" height="2" fill="#707070"/>
<rect x="569" y="461" width="2" height="2" fill="#707070"/>
<rect x="579" y="461" width="2" height="2" fill="#707070"/>
<rect x="562" y="467" width="2" height="2" fill="#707070"/>
<rect x="628" y="467" width="2" height="2" fill="#707070"/>
<rect x="614" y="473" width="2" height="2" fill="#707070"/>
<rect x="642" y="473" width="2" height="2" fill="#707070"/>
<rect x="647" y="473" width="2" height="2" fill="#707070"/>
<rect x="621" y="485" width="2" height="2" fill="#707070"/>
<rect x="624" y="485" width="2" height="2" fill="#707070"/>
<rect x="542" y="490" width="2" height="2" fill="#707070"/>
<rect x="358" y="425" width="2" height="2" fill="#707070"/>
<rect x="406" y="425" width="2" height="2" fill="#707070"/>
<rect x="433" y="431" width="2" height="2" fill="#707070"/>
<rect x="440" y="431" width="2" height="2" fill="#707070"/>
<rect x="443" y="401" width="2" height="2" fill="#707070"/>
<rect x="445" y="407" width="2" height="2" fill="#707070"/>
<rect x="400" y="395" width="2" height="2" fill="#707070"/>
<rect x="366" y="419" width="2" height="2" fill="#707070"/>
<rect x="236" y="437" width="2" height="2" fill="#707070"/>
<rect x="223" y="455" width="2" height="2" fill="#707070"/>
<rect x="210" y="479" width="2" height="2" fill="#707070"/>
<rect x="275" y="419" width="2" height="2" fill="#707070"/>
<rect x="518" y="425" width="2" height="2" fill="#707070"/>
<line x1="152" y1="491.5" x2="650" y2="491.5" stroke="#FF8000" stroke-width="1" stroke-dasharray="3 1"/>
<polyline points="324.70,491.30 332.00,487.30 342.70,480.70 353.30,476.00 362.70,472.70 369.30,468.70 370.70,462.70 371.30,448.00 372.70,444.00 376.00,438.00 378.70,436.70 381.00,435.50 385.00,430.50 390.00,427.50 395.00,424.50 405.00,422.00 412.50,419.50 417.50,423.00 422.50,421.00 430.00,426.25 438.60,428.20 441.30,425.00 442.60,418.30 443.30,403.00 444.60,408.30 446.00,429.60 446.60,448.20 448.00,438.90 449.30,426.90 450.60,419.60 451.30,432.20 452.00,446.90 452.90,428.20 453.70,428.20 454.60,448.20 456.60,456.20 458.75,460.00 463.75,471.25 468.75,476.25 476.25,483.10 483.75,488.10 490.00,490.00 500.00,491.00" fill="none" stroke="#CCCC00" stroke-width="1" stroke-linejoin="bevel" shape-rendering="crispEdges"/>
<polyline points="152.40,461.00 153.00,475.00 155.00,467.00 157.00,476.00 160.00,483.00 162.40,471.60 166.00,477.00 169.00,482.00 171.00,480.00 172.00,484.00 176.00,487.00 179.00,478.00 182.00,483.00 185.00,478.40 189.00,484.40 191.00,485.60 193.00,466.00 195.00,474.00 197.00,466.00 201.00,466.00 204.00,471.00 208.00,480.00 210.00,466.00 214.00,462.00 218.00,451.60 221.00,455.00 224.00,466.00 226.00,458.00 228.00,457.00 231.00,470.00 234.00,466.00 236.00,476.00 242.00,484.00 247.00,488.00 249.00,476.00 253.00,472.00 255.00,474.00 259.00,481.00 262.00,477.60 264.00,484.00 269.00,488.00 272.00,481.00 277.00,485.00 281.00,487.60 283.60,483.00 286.00,488.00 289.60,488.00 291.00,476.00 295.00,468.40 299.00,477.00 300.00,481.30 302.70,484.00 304.70,474.70 306.00,477.30 307.30,473.30 310.00,473.30 312.70,466.00 316.00,463.30 318.00,470.00 319.30,463.30 320.70,465.30 322.00,462.70 324.00,462.40 326.70,470.70 329.30,478.70 334.70,485.30 342.00,490.00 344.00,482.70 346.00,486.00 348.70,481.30 350.00,484.00 351.30,477.30 353.30,478.70 354.70,472.00 356.00,471.30 358.00,470.00 360.00,466.00 361.30,470.70 363.00,469.00 365.30,470.00 367.30,473.30 369.30,470.00 372.00,464.70 376.00,458.70 379.30,459.90 381.90,467.80 383.60,466.00 386.30,477.40 388.90,467.80 395.00,462.50 396.80,466.00 398.50,473.00 400.30,463.40 402.90,472.10 405.50,466.90 408.20,472.10 412.50,465.10 416.00,473.00 418.70,467.80 421.30,473.00 425.70,467.80 430.00,466.00 437.00,479.20 440.00,472.50 443.10,481.25 445.60,470.00 446.90,476.25 448.75,469.40 451.90,466.25 453.10,471.25 455.60,470.00 458.75,463.10 460.60,464.40 461.90,461.90 465.00,473.75 466.90,475.00 469.40,467.50 471.90,475.60 475.00,478.10 477.00,476.00 479.40,472.75 481.25,477.50 484.40,483.10 487.50,485.60 490.00,482.50 492.50,486.90 498.10,489.40 500.00,480.60 501.25,483.75 505.00,474.40 506.90,476.25 509.40,472.50 512.50,482.50 516.25,478.75 518.75,484.40 522.50,488.10 527.50,490.00 530.20,491.50 552.50,491.25 554.40,489.40 556.25,490.60 559.40,473.10 561.25,471.25 566.90,483.10 568.00,478.00 570.00,465.00 573.10,462.50 576.25,465.60 580.00,466.25 585.00,480.00 588.75,480.60 592.50,486.25 598.75,488.75 603.75,490.00 607.00,478.00 610.00,463.75 613.10,458.10 615.60,463.10 617.50,459.40 620.60,464.40 622.50,458.75 626.90,456.90 629.40,457.50 633.75,461.90 637.50,455.60 639.40,456.25 641.90,451.90 643.75,455.60 646.25,455.60 650.00,470.00" fill="none" stroke="#000000" stroke-width="1" stroke-linejoin="bevel" shape-rendering="crispEdges"/>
<polyline points="151.00,410.00 232.50,407.50 290.00,405.50 316.25,405.00 317.00,400.00 318.00,390.00 320.00,382.00 322.50,372.50 325.00,365.00 327.50,360.00 331.00,355.50 335.00,352.50 342.50,350.75 353.75,351.25 367.00,351.25 368.50,345.00 370.00,330.00 372.50,320.00 375.00,312.00 377.50,307.50 381.00,303.50 385.00,301.25 395.00,300.75 410.00,302.00 411.50,306.00 412.50,318.00 414.00,327.00 416.50,335.00 420.00,343.75 424.00,350.00 427.50,354.00 433.00,357.50 441.25,359.50 442.50,360.00 443.50,372.00 444.00,385.00 447.00,398.00 450.00,406.00 455.00,413.00 462.50,417.50 470.00,419.00 476.25,419.50 477.50,412.00 478.75,399.00 481.25,386.25 483.50,381.00 486.25,376.90 490.00,372.50 495.00,368.10 505.00,366.50 528.00,366.00 529.00,358.00 530.00,349.70 531.00,340.00 532.90,331.70 535.00,325.00 538.90,319.80 543.00,316.00 547.90,313.80 555.00,312.80 562.90,312.30 564.40,304.80 565.00,295.00 565.90,286.80 568.00,280.00 570.40,274.90 574.00,268.00 579.30,261.40 583.00,260.00 586.80,259.30 588.30,247.90 589.50,237.00 591.30,226.90 593.50,220.00 596.00,216.00 600.00,212.00 604.80,206.50 613.80,204.50 621.60,204.00 622.90,203.20 624.10,184.90 625.00,177.00 626.50,171.60 629.00,165.00 633.20,158.30 637.00,154.50 641.50,151.30 645.00,150.20 649.90,149.60" fill="none" stroke="#FF0080" stroke-width="1" stroke-linejoin="bevel" shape-rendering="crispEdges"/>
<polyline points="151.50,174.50 154.70,170.60 159.40,170.60 162.50,165.00 195.30,165.00 196.90,169.70 201.60,174.50 212.50,174.50 214.00,178.00 237.50,178.00 240.60,174.50 267.20,174.50 268.75,170.30 282.80,170.30 284.40,165.00 303.10,165.00 304.70,161.25 318.75,161.25 321.90,165.00 339.00,165.00 341.25,161.25 349.40,161.25 351.60,165.00 365.00,165.00 367.50,168.75 369.50,165.50 371.25,170.00 390.00,170.00 391.50,171.00 393.50,174.50 396.50,174.50 399.00,178.00 399.50,175.50 401.00,174.50 401.50,179.50 403.00,182.00 405.00,182.50 407.50,187.00 417.00,187.00 419.00,191.00 431.00,191.50 433.00,195.00 445.00,195.00 446.50,200.00 449.00,200.50 451.00,203.00 455.00,204.50 457.00,208.00 462.00,208.00 464.50,204.50 467.00,204.50 469.50,208.00 472.00,205.00 475.00,203.75 477.50,200.50 490.00,200.50 493.75,204.50 495.00,200.50 508.75,200.50 511.25,195.50 523.50,195.50 525.50,200.50 532.50,200.50 533.50,203.50 536.00,205.50 539.50,212.20 542.50,212.50 544.50,217.50 545.50,212.50 547.00,217.50 549.00,212.50 552.00,210.00 552.50,208.50 554.50,212.00 555.50,206.00 558.00,204.00 559.50,200.50 561.50,200.50 563.00,196.00 564.50,195.00 566.00,192.00 568.00,191.00 570.00,195.00 571.50,198.00 573.50,212.00 577.00,212.00 578.50,208.50 582.50,208.50 584.00,204.50 596.00,204.50 598.00,200.50 609.90,200.20 613.20,191.90 617.40,191.20 619.90,187.40 622.90,187.40 624.90,182.90 627.40,186.60 629.90,182.90 631.90,186.60 634.00,182.90 636.50,182.90 644.00,182.90 646.50,178.60 650.70,178.60" fill="none" stroke="#8080FF" stroke-width="1" stroke-linejoin="bevel" shape-rendering="crispEdges"/>
<polyline points="151.00,332.00 156.00,334.00 157.50,337.50 167.50,337.50 168.75,335.00 170.00,337.50 179.50,338.00 180.50,341.75 191.25,341.75 192.50,344.00 193.75,341.75 203.25,341.75 207.00,345.00 211.25,351.25 215.50,358.75 217.50,366.25 221.25,367.00 222.50,370.00 227.50,370.00 230.00,373.75 233.75,376.25 236.25,380.00 241.25,381.25 242.50,383.75 257.50,383.75 260.00,387.50 265.00,388.00 266.25,391.25 271.25,392.00 272.50,394.50 276.25,395.50 277.50,398.75 282.50,399.50 283.75,402.00 287.50,402.50 288.75,405.50 295.00,406.25 297.50,410.00 301.25,413.00 316.25,413.00 318.75,416.25 322.50,422.50 327.50,423.75 331.25,430.00 341.25,430.00 342.50,425.00 346.00,420.00 350.00,415.60 351.25,410.60 354.40,409.40 355.60,402.50 358.75,398.75 360.60,395.60 366.25,394.75 368.75,388.75 372.50,383.75 375.00,381.25 378.75,378.00 381.90,376.25 383.75,371.90 386.25,367.50 391.25,356.00 395.00,342.50 398.80,329.70 402.60,321.10 406.50,316.30 408.40,308.70 411.25,304.90 413.20,297.20 417.00,294.30 418.90,290.50 419.90,284.80 423.70,280.00 424.60,275.20 428.50,272.40 430.40,265.70 432.30,260.90 435.20,257.10 436.10,252.30 441.80,246.50 442.80,243.70 442.80,230.30 444.70,227.40 445.70,215.00 449.00,203.00 451.00,195.00 453.00,189.00 455.00,180.50 458.00,179.50 459.00,178.00 461.90,176.25 464.40,172.75 472.50,172.75 473.10,170.60 475.60,169.40 476.25,166.25 478.75,165.00 479.40,161.90 491.25,161.90 492.50,159.40 497.50,158.75 500.00,155.00 510.00,155.00 511.25,152.50 513.75,151.90 516.25,155.00 518.75,151.90 520.00,151.90 521.25,155.00 522.50,153.10 525.00,151.90 535.00,151.90 538.10,148.10 552.50,148.10 555.00,144.40 558.75,144.40 560.50,148.00 593.75,148.00 597.00,144.00 608.75,144.00 612.50,151.50 621.25,151.50 622.50,155.00 651.00,155.00" fill="none" stroke="#008000" stroke-width="2" stroke-linejoin="bevel" shape-rendering="crispEdges"/>
<rect x="239" y="488" width="2" height="13" fill="#808080"/>
<rect x="415" y="488" width="2" height="13" fill="#808080"/>
<rect x="324" y="488" width="2" height="13" fill="#FFFF00"/>
<rect x="499" y="488" width="2" height="13" fill="#FFFF00"/>
<text x="10.5" y="522" fill="#000" font-size="12" text-anchor="start" textLength="26.5" lengthAdjust="spacingAndGlyphs">08:23</text>
<path d="M40,521 A5,5 0 0 1 50,521 Z" fill="#FFEE00"/>
<path d="M237.5,512 h3 v3.5 h2 l-3.5,5 l-3.5,-5 h2 z" fill="#FFFF00"/>
<rect x="234" y="514" width="1" height="1" fill="#8080FF"/><rect x="241" y="520" width="1" height="1" fill="#4040C0"/><rect x="243" y="520" width="1" height="1" fill="#8080FF"/><rect x="245" y="520" width="1" height="1" fill="#8080FF"/><rect x="245" y="522" width="1" height="1" fill="#8080FF"/>
<text x="247" y="522" fill="#000" font-size="12" text-anchor="start" textLength="26.5" lengthAdjust="spacingAndGlyphs">04:16</text>
<text x="292" y="522" fill="#000" font-size="12" text-anchor="start" textLength="26.5" lengthAdjust="spacingAndGlyphs">08:20</text>
<circle cx="325.5" cy="517.5" r="3.2" fill="#FFFF00"/><circle cx="325.5" cy="517.5" r="5.5" fill="none" stroke="#FFFF99" stroke-width="1" stroke-dasharray="2 2"/>
<rect x="411.5" y="512.5" width="5" height="5" fill="none" stroke="#6060FF" stroke-width="1" stroke-dasharray="1 1"/>
<path d="M418.5,514.5 l3.5,4.5 h-2 v3.5 h-3 v-3.5 h-2 z" fill="#FFFF00"/>
<text x="423.5" y="522" fill="#000" font-size="12" text-anchor="start" textLength="26.5" lengthAdjust="spacingAndGlyphs">12:42</text>
<text x="467" y="522" fill="#000" font-size="12" text-anchor="start" textLength="26.5" lengthAdjust="spacingAndGlyphs">16:43</text>
<rect x="497.5" y="515.5" width="5" height="5" fill="none" stroke="#FFFF33" stroke-width="1"/>
<rect x="1" y="525" width="798" height="76" fill="#FFFF55"/>
<rect x="87" y="525" width="1" height="76" fill="#F0F0FF"/>
<rect x="88" y="525" width="1" height="76" fill="#A0A0A0"/>
<rect x="204" y="525" width="1" height="76" fill="#F0F0FF"/>
<rect x="205" y="525" width="1" height="76" fill="#A0A0A0"/>
<rect x="322" y="525" width="1" height="76" fill="#F0F0FF"/>
<rect x="323" y="525" width="1" height="76" fill="#A0A0A0"/>
<rect x="440" y="525" width="1" height="76" fill="#F0F0FF"/>
<rect x="441" y="525" width="1" height="76" fill="#A0A0A0"/>
<rect x="558" y="525" width="1" height="76" fill="#F0F0FF"/>
<rect x="559" y="525" width="1" height="76" fill="#A0A0A0"/>
<rect x="676" y="525" width="1" height="76" fill="#F0F0FF"/>
<rect x="677" y="525" width="1" height="76" fill="#A0A0A0"/>
<rect x="794" y="525" width="1" height="76" fill="#F0F0FF"/>
<rect x="795" y="525" width="1" height="76" fill="#A0A0A0"/>
<rect x="799" y="524" width="1" height="77" fill="#A0A0A0"/>
<text x="9" y="543" fill="#000" font-size="12" text-anchor="start" font-weight="bold" textLength="38.1" lengthAdjust="spacingAndGlyphs">Sensor</text>
<text x="9" y="559" fill="#000" font-size="12" text-anchor="start" font-weight="bold" textLength="46.25" lengthAdjust="spacingAndGlyphs">MinWert</text>
<text x="9" y="575" fill="#000" font-size="12" text-anchor="start" font-weight="bold" textLength="49.4" lengthAdjust="spacingAndGlyphs">MaxWert</text>
<text x="9" y="591" fill="#000" font-size="12" text-anchor="start" font-weight="bold" textLength="70.9" lengthAdjust="spacingAndGlyphs">Durchschnitt</text>
<text x="9" y="607" fill="#000" font-size="12" text-anchor="start" font-weight="bold" textLength="71" lengthAdjust="spacingAndGlyphs">07.01. 23:56</text>
<text x="95.4" y="543" fill="#000" font-size="12" text-anchor="start" font-weight="bold" textLength="26.6" lengthAdjust="spacingAndGlyphs">T-2m</text>
<text x="198" y="543" fill="#000" font-size="12" text-anchor="end" font-weight="bold" textLength="11.4" lengthAdjust="spacingAndGlyphs">°C</text>
<text x="100.8" y="559" fill="#000" font-size="12" text-anchor="start" textLength="25.2" lengthAdjust="spacingAndGlyphs">08:41</text>
<text x="198" y="559" fill="#000" font-size="12" text-anchor="end" textLength="23.3" lengthAdjust="spacingAndGlyphs">-12.3</text>
<text x="100.8" y="575" fill="#000" font-size="12" text-anchor="start" textLength="25.2" lengthAdjust="spacingAndGlyphs">19:22</text>
<text x="198" y="575" fill="#000" font-size="12" text-anchor="end" textLength="16.5" lengthAdjust="spacingAndGlyphs">-4.3</text>
<text x="100.8" y="591" fill="#000" font-size="12" text-anchor="start" textLength="38.5" lengthAdjust="spacingAndGlyphs">( - 9.25 )</text>
<text x="198" y="591" fill="#000" font-size="12" text-anchor="end" textLength="23.3" lengthAdjust="spacingAndGlyphs">-8.05</text>
<text x="198" y="607" fill="#000" font-size="12" text-anchor="end" font-weight="bold" textLength="18.59" lengthAdjust="spacingAndGlyphs">-4.6</text>
<text x="212.5" y="543" fill="#000" font-size="12" text-anchor="start" font-weight="bold" textLength="26.6" lengthAdjust="spacingAndGlyphs">F-2m</text>
<text x="316" y="543" fill="#000" font-size="12" text-anchor="end" font-weight="bold" textLength="7.8" lengthAdjust="spacingAndGlyphs">%</text>
<text x="218.6" y="559" fill="#000" font-size="12" text-anchor="start" textLength="25.4" lengthAdjust="spacingAndGlyphs">18:51</text>
<text x="316" y="559" fill="#000" font-size="12" text-anchor="end" textLength="11.5" lengthAdjust="spacingAndGlyphs">64</text>
<text x="218.6" y="575" fill="#000" font-size="12" text-anchor="start" textLength="25.4" lengthAdjust="spacingAndGlyphs">07:22</text>
<text x="316" y="575" fill="#000" font-size="12" text-anchor="end" textLength="11.5" lengthAdjust="spacingAndGlyphs">77</text>
<text x="316" y="591" fill="#000" font-size="12" text-anchor="end" textLength="11.5" lengthAdjust="spacingAndGlyphs">72</text>
<text x="215.7" y="607" fill="#000" font-size="12" text-anchor="start" textLength="45.54" lengthAdjust="spacingAndGlyphs">2.56 g/m³</text>
<text x="316" y="607" fill="#000" font-size="12" text-anchor="end" font-weight="bold" textLength="12.0" lengthAdjust="spacingAndGlyphs">72</text>
<text x="331" y="543" fill="#000" font-size="12" text-anchor="start" font-weight="bold" textLength="52" lengthAdjust="spacingAndGlyphs">Luftdruck</text>
<text x="434.4" y="543" fill="#000" font-size="12" text-anchor="end" font-weight="bold" textLength="20.6" lengthAdjust="spacingAndGlyphs">hPa</text>
<text x="336.5" y="559" fill="#000" font-size="12" text-anchor="start" textLength="25.4" lengthAdjust="spacingAndGlyphs">15:37</text>
<text x="434.4" y="559" fill="#000" font-size="12" text-anchor="end" textLength="32.2" lengthAdjust="spacingAndGlyphs">1021.3</text>
<text x="336.5" y="575" fill="#000" font-size="12" text-anchor="start" textLength="25.4" lengthAdjust="spacingAndGlyphs">22:41</text>
<text x="434.4" y="575" fill="#000" font-size="12" text-anchor="end" textLength="32.2" lengthAdjust="spacingAndGlyphs">1026.4</text>
<text x="330" y="591" fill="#000" font-size="12" text-anchor="start" textLength="51.25" lengthAdjust="spacingAndGlyphs">^1.1hPa/h</text>
<text x="434.4" y="591" fill="#000" font-size="12" text-anchor="end" textLength="32.2" lengthAdjust="spacingAndGlyphs">1022.8</text>
<text x="350" y="607" fill="#000" font-size="12" text-anchor="start" textLength="17.38" lengthAdjust="spacingAndGlyphs">min</text>
<text x="434.4" y="607" fill="#000" font-size="12" text-anchor="end" font-weight="bold" textLength="40.82" lengthAdjust="spacingAndGlyphs">◆1026.4</text>
<text x="448.7" y="543" fill="#000" font-size="12" text-anchor="start" font-weight="bold" textLength="28.3" lengthAdjust="spacingAndGlyphs">Wind</text>
<text x="552.3" y="543" fill="#000" font-size="12" text-anchor="end" font-weight="bold" textLength="28.5" lengthAdjust="spacingAndGlyphs">km/h</text>
<text x="448.7" y="559" fill="#000" font-size="12" text-anchor="start" textLength="43.3" lengthAdjust="spacingAndGlyphs">Ø 10 min.</text>
<text x="552.3" y="559" fill="#000" font-size="12" text-anchor="end" textLength="14.5" lengthAdjust="spacingAndGlyphs">0.4</text>
<text x="454.7" y="575" fill="#000" font-size="12" text-anchor="start" textLength="26.5" lengthAdjust="spacingAndGlyphs">01:57</text>
<text x="552.3" y="575" fill="#000" font-size="12" text-anchor="end" textLength="28.8" lengthAdjust="spacingAndGlyphs">W 8.6</text>
<text x="552.3" y="591" fill="#000" font-size="12" text-anchor="end" textLength="14.5" lengthAdjust="spacingAndGlyphs">2.4</text>
<text x="448.7" y="607" fill="#000" font-size="12" text-anchor="start" textLength="20.98" lengthAdjust="spacingAndGlyphs">0.0ft</text>
<text x="552.3" y="607" fill="#000" font-size="12" text-anchor="end" font-weight="bold" textLength="14.99" lengthAdjust="spacingAndGlyphs">0.4</text>
<text x="566.25" y="543" fill="#000" font-size="12" text-anchor="start" font-weight="bold" textLength="36.9" lengthAdjust="spacingAndGlyphs">Regen</text>
<text x="670.3" y="543" fill="#000" font-size="12" text-anchor="end" font-weight="bold" textLength="22.8" lengthAdjust="spacingAndGlyphs">l/m²</text>
<text x="572.5" y="575" fill="#000" font-size="12" text-anchor="start" textLength="25.4" lengthAdjust="spacingAndGlyphs">00:02</text>
<text x="670.3" y="575" fill="#000" font-size="12" text-anchor="end" textLength="14.5" lengthAdjust="spacingAndGlyphs">0.0</text>
<text x="566.25" y="591" fill="#000" font-size="12" text-anchor="start" textLength="38.7" lengthAdjust="spacingAndGlyphs">Gesamt:</text>
<text x="670.3" y="591" fill="#000" font-size="12" text-anchor="end" textLength="14.5" lengthAdjust="spacingAndGlyphs">0.0</text>
<text x="566.25" y="607" fill="#000" font-size="12" text-anchor="start" textLength="32.97" lengthAdjust="spacingAndGlyphs">0.0 l/h³</text>
<text x="670.3" y="607" fill="#000" font-size="12" text-anchor="end" font-weight="bold" textLength="14.99" lengthAdjust="spacingAndGlyphs">0.0</text>
<text x="684.4" y="543" fill="#000" font-size="12" text-anchor="start" font-weight="bold" textLength="52.2" lengthAdjust="spacingAndGlyphs">PMV-1:-5</text>
<text x="684.4" y="559" fill="#000" font-size="12" text-anchor="start" textLength="52.9" lengthAdjust="spacingAndGlyphs">WC -4.6 °C</text>
<text x="684.4" y="575" fill="#000" font-size="12" text-anchor="start" textLength="48.8" lengthAdjust="spacingAndGlyphs">TP -8.7 °C</text>
<text x="684.4" y="591" fill="#000" font-size="12" text-anchor="start" textLength="51" lengthAdjust="spacingAndGlyphs">2.0hPa/3h</text>
<text x="684.4" y="607" fill="#000" font-size="12" text-anchor="start" textLength="49.15" lengthAdjust="spacingAndGlyphs">0.0hPa/1h</text>
</svg></body></html>
